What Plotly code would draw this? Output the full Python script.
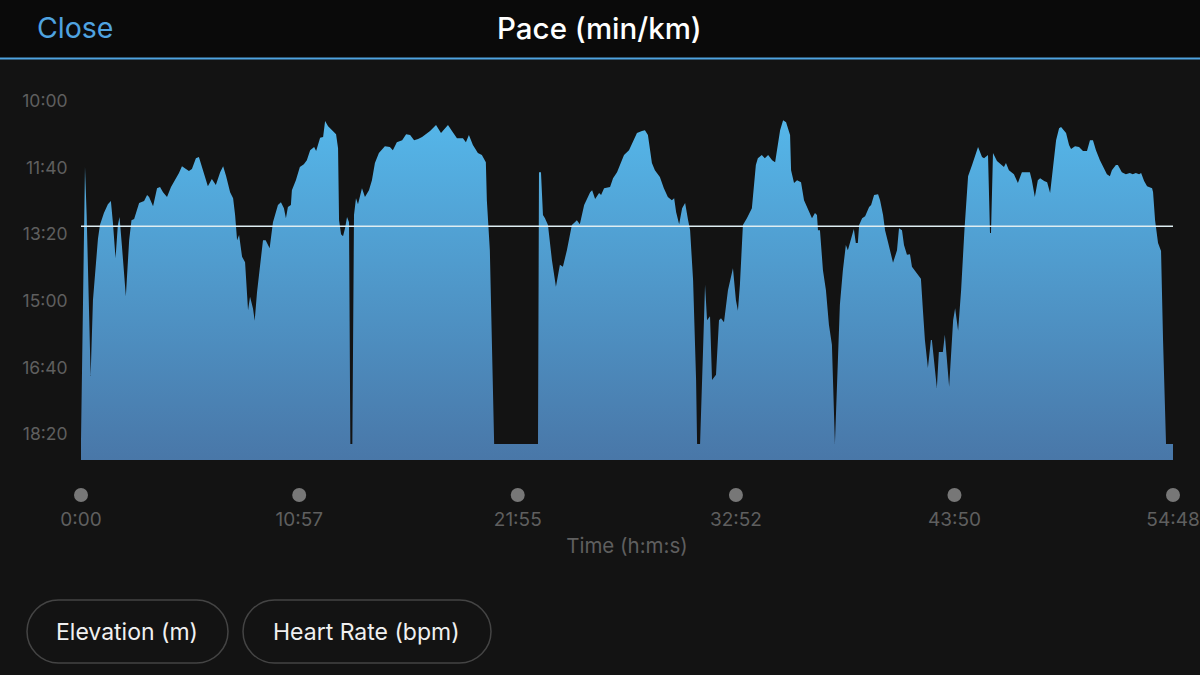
import plotly.graph_objects as go

# time in seconds, pace in seconds per km
time_s = [0, 12, 17, 29, 36, 45, 51, 57, 69, 81, 90, 96, 104, 111, 116, 123, 135, 145, 152, 160,
          175, 190, 199, 205, 217, 229, 238, 247, 259, 271, 286, 295, 304, 316, 325, 334, 346, 355, 364, 376,
          382, 394, 406, 419, 428, 437, 449, 458, 464, 470, 476, 485, 494, 503, 509, 518, 523, 530, 548, 556,
          568, 578, 593, 602, 611, 617, 623, 632, 635, 647, 659, 671, 680, 690, 702, 708, 720, 729, 735, 744,
          756, 768, 774, 777, 783, 789, 795, 801, 807, 811, 817, 822, 828, 834, 846, 855, 867, 876, 885, 897, 915,
          924, 930, 939, 951, 967, 979, 991, 1003, 1015, 1027, 1051, 1069, 1084, 1105, 1117, 1132, 1150, 1159, 1168, 1180,
          1195, 1207, 1219, 1222, 1231, 1244, 1376, 1379, 1385, 1391, 1397, 1406, 1418, 1430, 1442, 1451, 1463, 1478, 1487, 1493,
          1502, 1515, 1533, 1539, 1548, 1560, 1566, 1575, 1593, 1602, 1614, 1623, 1635, 1650, 1662, 1674, 1689, 1698, 1707, 1713,
          1719, 1728, 1743, 1755, 1767, 1779, 1786, 1792, 1801, 1810, 1819, 1828, 1834, 1843, 1852, 1855, 1864, 1873, 1879, 1885,
          1894, 1900, 1912, 1921, 1927, 1936, 1948, 1963, 1972, 1978, 1984, 1993, 2005, 2020, 2032, 2038, 2050, 2059, 2069, 2081,
          2090, 2105, 2114, 2123, 2135, 2138, 2147, 2156, 2168, 2177, 2189, 2201, 2210, 2216, 2219, 2225, 2234, 2243, 2252, 2261,
          2270, 2279, 2285, 2294, 2303, 2309, 2318, 2327, 2333, 2339, 2343, 2352, 2361, 2373, 2379, 2388, 2400, 2406, 2415, 2421,
          2430, 2445, 2457, 2463, 2472, 2478, 2487, 2496, 2502, 2514, 2529, 2535, 2541, 2550, 2559, 2562, 2577, 2583, 2595, 2601,
          2614, 2626, 2632, 2641, 2650, 2660, 2671, 2683, 2692, 2701, 2713, 2719, 2731, 2737, 2740, 2746, 2758, 2770, 2779, 2785,
          2794, 2809, 2821, 2833, 2845, 2857, 2863, 2869, 2872, 2881, 2888, 2900, 2909, 2918, 2927, 2936, 2945, 2951, 2966, 2975,
          2981, 2993, 3005, 3017, 3029, 3038, 3047, 3056, 3068, 3080, 3089, 3098, 3104, 3116, 3122, 3134, 3146, 3158, 3167, 3176,
          3186, 3192, 3201, 3210, 3225, 3228, 3234, 3243, 3252, 3258, 3267, 3288]
pace_s = [1109, 699, 771, 1013, 899, 839, 807, 786, 768, 755, 750, 782, 836, 786, 774, 816, 893, 809, 779, 777,
          753, 750, 741, 744, 758, 731, 729, 737, 744, 729, 717, 708, 698, 702, 705, 702, 686, 684, 698, 720,
          728, 717, 726, 707, 698, 713, 737, 746, 771, 809, 801, 834, 842, 914, 894, 912, 930, 887, 809, 809,
          821, 782, 756, 752, 761, 776, 759, 756, 734, 719, 699, 695, 689, 674, 669, 675, 655, 654, 630, 638,
          644, 650, 671, 779, 800, 803, 791, 774, 782, 1115, 1115, 771, 746, 755, 731, 744, 734, 719, 693, 678, 668,
          668, 669, 674, 662, 659, 650, 651, 659, 657, 654, 645, 636, 648, 636, 645, 656, 656, 662, 651, 666,
          678, 681, 692, 749, 824, 1115, 1115, 707, 707, 771, 776, 786, 839, 879, 846, 849, 824, 786, 782, 779,
          785, 756, 737, 734, 747, 738, 741, 731, 729, 716, 707, 696, 681, 674, 660, 648, 645, 644, 651, 674,
          693, 704, 714, 731, 744, 749, 746, 767, 785, 761, 753, 779, 794, 869, 1019, 1115, 1115, 974, 876, 929,
          923, 1019, 1011, 929, 926, 932, 884, 851, 899, 915, 876, 786, 776, 761, 696, 686, 681, 686, 681, 689,
          692, 644, 629, 632, 651, 704, 723, 719, 722, 749, 764, 776, 768, 771, 794, 794, 854, 884, 936, 966,
          1115, 996, 906, 854, 816, 824, 809, 792, 813, 813, 786, 776, 773, 759, 756, 741, 740, 749, 771, 794,
          812, 843, 824, 791, 794, 816, 831, 830, 849, 857, 867, 914, 959, 1001, 959, 959, 1031, 977, 977, 951,
          1029, 929, 911, 945, 884, 794, 713, 696, 681, 669, 684, 686, 681, 798, 798, 678, 690, 696, 699, 693,
          704, 710, 723, 707, 707, 707, 719, 741, 744, 719, 716, 720, 722, 738, 696, 659, 641, 639, 648, 666,
          672, 668, 669, 675, 675, 659, 659, 674, 689, 701, 710, 713, 704, 696, 696, 707, 710, 708, 710, 708,
          710, 708, 720, 728, 731, 737, 779, 813, 825, 959, 1115, 1115]

avg_pace = 788
pace_floor = 1139
pace_top = 538.4
duration = 3288

x_ticks = [0, 657, 1315, 1972, 2630, 3288]
x_labels = ["0:00", "10:57", "21:55", "32:52", "43:50", "54:48"]
y_ticks = [600, 700, 800, 900, 1000, 1100]
y_labels = ["10:00", "11:40", "13:20", "15:00", "16:40", "18:20"]

W = 1200
H = 675
FONT = "Inter"
BLUE = "#4fa3e0"
GREY = "#5f5f5f"


def pill(x0, y0, x1, y1):
    # rounded button outline, pixel box to paper coords
    r = (y1 - y0) / 2
    k = r * 0.45
    pts = [("M", x0 + r, y0), ("L", x1 - r, y0),
           ("C", x1 - k, y0, x1, y0 + k, x1, y0 + r),
           ("C", x1, y1 - k, x1 - k, y1, x1 - r, y1),
           ("L", x0 + r, y1),
           ("C", x0 + k, y1, x0, y1 - k, x0, y0 + r),
           ("C", x0, y0 + k, x0 + k, y0, x0 + r, y0)]
    path = ""
    for p in pts:
        path += p[0]
        for i in range(1, len(p), 2):
            path += " %.5f,%.5f " % (p[i] / W, 1 - p[i + 1] / H)
    return path + "Z"


fig = go.Figure()
fig.add_trace(go.Scatter(x=[0, duration], y=[pace_floor, pace_floor], mode="lines",
                         line=dict(width=0), hoverinfo="skip"))
# colorscale runs the other way because the pace axis is reversed
fig.add_trace(go.Scatter(x=time_s, y=pace_s, mode="lines", line=dict(width=0),
                         fill="tonexty",
                         fillgradient=dict(type="vertical",
                                           colorscale=[[0, "#4977a8"], [1, "#55b6e9"]])))
fig.add_trace(go.Scatter(x=[0, duration], y=[avg_pace, avg_pace], mode="lines",
                         line=dict(color="#dfeef2", width=1.5)))
fig.add_trace(go.Scatter(x=x_ticks, y=[0] * len(x_ticks), yaxis="y2", mode="markers",
                         marker=dict(color="#777777", size=14), cliponaxis=False))

shapes = [
    dict(type="rect", xref="paper", yref="paper", x0=0, x1=1, y0=1 - 58 / H, y1=1,
         fillcolor="#0a0a0a", line=dict(width=0), layer="below"),
    dict(type="line", xref="paper", yref="paper", x0=0, x1=1, y0=1 - 58.5 / H, y1=1 - 58.5 / H,
         line=dict(color=BLUE, width=2)),
    dict(type="path", xref="paper", yref="paper", path=pill(27, 600, 228, 663),
         line=dict(color="#444444", width=1.5)),
    dict(type="path", xref="paper", yref="paper", path=pill(243, 600, 491, 663),
         line=dict(color="#444444", width=1.5)),
]

annotations = [
    dict(text="Close", x=35 / W, y=1 - 27 / H, font=dict(color=BLUE, size=28.5)),
    dict(text="Elevation (m)", x=127 / W, y=1 - 632 / H, font=dict(color="#f0f0f0", size=23)),
    dict(text="Heart Rate (bpm)", x=366 / W, y=1 - 632 / H, font=dict(color="#f0f0f0", size=23)),
]
for a in annotations:
    a.update(xref="paper", yref="paper", showarrow=False, yanchor="middle",
             xanchor="left" if a["text"] == "Close" else "center")

fig.update_layout(
    width=W, height=H,
    template="none",
    margin=dict(l=0, r=0, t=0, b=0),
    autosize=False,
    showlegend=False,
    paper_bgcolor="#131313",
    plot_bgcolor="rgba(0,0,0,0)",
    font=dict(family=FONT, color=GREY),
    title=dict(text="Pace (min/km)", x=0.4995, y=1 - 29 / H, xanchor="center", yanchor="middle",
               font=dict(family=FONT, color="#ffffff", size=29.5, weight=500)),
    xaxis=dict(domain=[81 / W, 1173 / W], range=[0, duration], anchor="y2",
               tickvals=x_ticks, ticktext=x_labels, ticks="outside", ticklen=0,
               tickcolor="rgba(0,0,0,0)", tickfont=dict(size=19, color=GREY),
               showgrid=False, zeroline=False, showline=False,
               title=dict(text="Time (h:m:s)", font=dict(size=20.5, color=GREY), standoff=8)),
    yaxis=dict(domain=[1 - 460 / H, 1 - 60 / H], range=[pace_floor, pace_top], anchor="x",
               tickvals=y_ticks, ticktext=y_labels, ticks="outside", ticklen=9,
               tickcolor="rgba(0,0,0,0)", tickfont=dict(size=17.5, color=GREY),
               showgrid=False, zeroline=False, showline=False),
    yaxis2=dict(domain=[1 - 502 / H, 1 - 488 / H], range=[-1, 1], anchor="x",
                showticklabels=False, ticks="", showgrid=False, zeroline=False, showline=False),
    shapes=shapes,
    annotations=annotations,
)

fig.write_html("out.html", config=dict(displayModeBar=False),
               post_script="document.body.style.margin='0';document.body.style.background='#131313';")
